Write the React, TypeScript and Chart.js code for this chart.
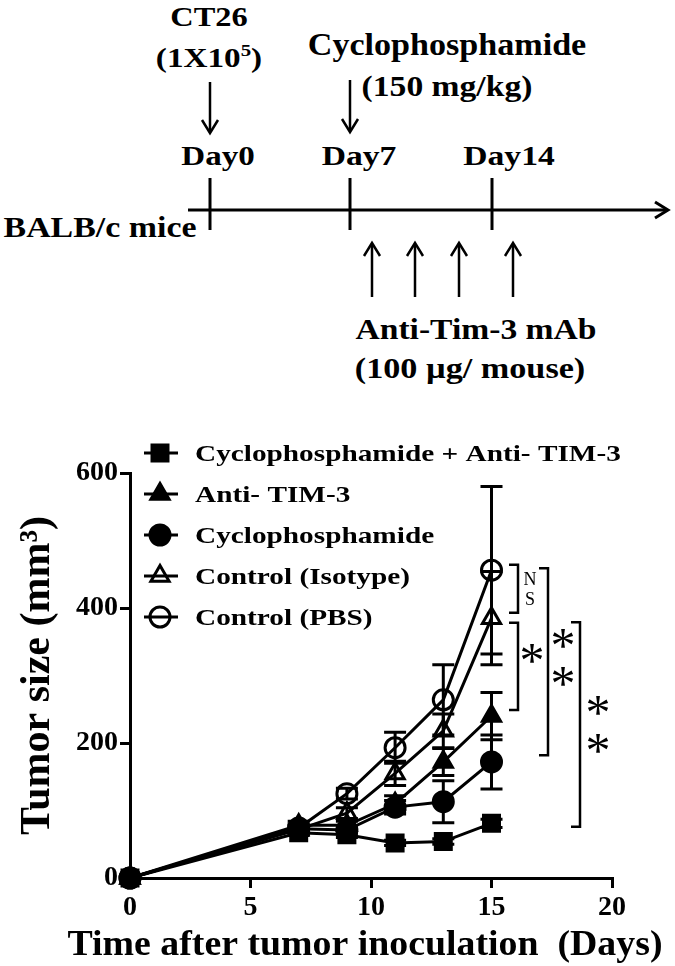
import React, { useEffect, useRef } from 'react';
import { Chart, registerables } from 'chart.js';

Chart.register(...registerables);

// ---------------- data ----------------
const days = [0, 7, 9, 11, 13, 15];
const comboValues = [0, 67, 64, 52, 54, 81];
const comboErrors = [0, 4, 4, 4, 4, 6];
const antiTim3Values = [0, 78, 78, 110, 172, 240];
const antiTim3Errors = [0, 6, 6, 12, 20, 35];
const cycloValues = [0, 73, 71, 105, 113, 172];
const cycloErrors = [0, 5, 6, 10, 31, 40];
const isotypeValues = [0, 72, 96, 155, 218, 385];
const isotypeErrors = [0, 6, 8, 18, 25, 69];
const pbsValues = [0, 74, 125, 193, 264, 456];
const pbsErrors = [0, 6, 8, 23, 52, 124];

const seriesLabels = [
  'Cyclophosphamide + Anti- TIM-3',
  'Anti- TIM-3',
  'Cyclophosphamide',
  'Control (Isotype)',
  'Control (PBS)',
];
const seriesValues = [comboValues, antiTim3Values, cycloValues, isotypeValues, pbsValues];
const seriesErrors = [comboErrors, antiTim3Errors, cycloErrors, isotypeErrors, pbsErrors];

const xTicks = [0, 5, 10, 15, 20];
const yTicks = [0, 200, 400, 600];
const xTitle = 'Time after tumor inoculation  (Days)';
const yTitle = 'Tumor size (mm³)';

const bracketTops = [464, 378, 459, 379];
const bracketBottoms = [393, 249, 182, 76];
const bracketLabels = ['NS', '*', '**', '**'];

// ---------------- styles ----------------
const FONT = "'Liberation Serif', 'Times New Roman', serif";
const markerStyles = [
  { pointStyle: 'rect', radius: 11.3, filled: true },
  { pointStyle: 'triangle', radius: 10.5, filled: true },
  { pointStyle: 'circle', radius: 10, filled: true },
  { pointStyle: 'triangle', radius: 10.5, filled: false },
  { pointStyle: 'circle', radius: 10, filled: false },
];
const CANVAS_TOP = 420;
const bracketPx = [518, 518, 548, 580];
const labelPx = [530, 532, 563, 598];
const labelDy = [0, -13, -5, 0];

function drawMarker(ctx: CanvasRenderingContext2D, style: string, r: number, x: number, y: number) {
  ctx.beginPath();
  if (style === 'rect') {
    const s = Math.SQRT1_2 * r;
    ctx.rect(x - s, y - s, 2 * s, 2 * s);
  } else if (style === 'triangle') {
    let rad = 0;
    ctx.moveTo(x + Math.sin(rad) * r, y - Math.cos(rad) * r);
    rad += (2 * Math.PI) / 3;
    ctx.lineTo(x + Math.sin(rad) * r, y - Math.cos(rad) * r);
    rad += (2 * Math.PI) / 3;
    ctx.lineTo(x + Math.sin(rad) * r, y - Math.cos(rad) * r);
    ctx.closePath();
  } else {
    ctx.arc(x, y, r, 0, Math.PI * 2);
  }
}

const errorBarPlugin = {
  id: 'errorBars',
  beforeDatasetsDraw(chart: any) {
    const { ctx, scales } = chart;
    const xs = scales.x, ys = scales.y;
    ctx.save();
    ctx.strokeStyle = '#000';
    ctx.lineWidth = 3;
    seriesValues.forEach((vals, i) => {
      const errs = seriesErrors[i];
      vals.forEach((v, j) => {
        const e = errs[j];
        if (!e) return;
        const px = xs.getPixelForValue(days[j]);
        const pt = ys.getPixelForValue(v + e);
        const pb = ys.getPixelForValue(v - e);
        ctx.beginPath();
        ctx.moveTo(px, pt); ctx.lineTo(px, pb);
        ctx.moveTo(px - 11, pt); ctx.lineTo(px + 11, pt);
        ctx.moveTo(px - 11, pb); ctx.lineTo(px + 11, pb);
        ctx.stroke();
      });
    });
    ctx.restore();
  },
};

const legendPlugin = {
  id: 'customLegend',
  afterDraw(chart: any) {
    const { ctx } = chart;
    ctx.save();
    seriesLabels.forEach((label, i) => {
      const cy = 453 - CANVAS_TOP + i * 41;
      ctx.strokeStyle = '#000';
      ctx.lineWidth = 3;
      ctx.beginPath();
      ctx.moveTo(144, cy); ctx.lineTo(178, cy);
      ctx.stroke();
      const m = markerStyles[i];
      drawMarker(ctx, m.pointStyle, m.radius, 160, cy);
      ctx.fillStyle = m.filled ? '#000' : 'rgba(0,0,0,0)';
      ctx.fill();
      ctx.stroke();
      ctx.save();
      ctx.translate(195, cy + 8);
      ctx.scale(1.22, 1);
      ctx.fillStyle = '#000';
      ctx.font = `bold 24px ${FONT}`;
      ctx.textAlign = 'left';
      ctx.textBaseline = 'alphabetic';
      ctx.fillText(label, 0, 0);
      ctx.restore();
    });
    ctx.restore();
  },
};

const xTitlePlugin = {
  id: 'xTitle',
  afterDraw(chart: any) {
    const { ctx } = chart;
    ctx.save();
    ctx.font = `bold 35px ${FONT}`;
    const w = ctx.measureText(xTitle).width;
    const target = 595;
    ctx.translate(365, 955 - CANVAS_TOP);
    ctx.scale(target / w, 1);
    ctx.fillStyle = '#000';
    ctx.textAlign = 'center';
    ctx.textBaseline = 'alphabetic';
    ctx.fillText(xTitle, 0, 0);
    ctx.restore();
  },
};

const bracketPlugin = {
  id: 'brackets',
  afterDraw(chart: any) {
    const { ctx, scales } = chart;
    const ys = scales.y;
    ctx.save();
    ctx.strokeStyle = '#000';
    ctx.fillStyle = '#000';
    ctx.lineWidth = 2.5;
    bracketLabels.forEach((label, i) => {
      const bx = bracketPx[i];
      const t = ys.getPixelForValue(bracketTops[i]);
      const b = ys.getPixelForValue(bracketBottoms[i]);
      ctx.beginPath();
      ctx.moveTo(bx - 9, t); ctx.lineTo(bx, t); ctx.lineTo(bx, b); ctx.lineTo(bx - 9, b);
      ctx.stroke();
      const mid = (t + b) / 2 + labelDy[i];
      const chars = label.split('');
      const isStar = chars[0] === '*';
      const step = isStar ? 38 : 20;
      ctx.textAlign = 'center';
      ctx.textBaseline = 'alphabetic';
      chars.forEach((c, k) => {
        const cy = mid + (k - (chars.length - 1) / 2) * step;
        if (isStar) {
          ctx.font = `50px ${FONT}`;
          ctx.fillText(c, labelPx[i], cy + 24);
        } else {
          ctx.font = `18px ${FONT}`;
          ctx.fillText(c, labelPx[i], cy + 6);
        }
      });
    });
    ctx.restore();
  },
};

function STxt(props: { x: number; y: number; size: number; sx: number; children: any }) {
  const { x, y, size, sx, children } = props;
  return (
    <text
      transform={`translate(${x} ${y}) scale(${sx} 1)`}
      textAnchor="middle"
      fontSize={size}
      fontWeight="bold"
      fontFamily={FONT}
      fill="#000"
    >
      {children}
    </text>
  );
}

function Timeline() {
  const upArrows = [372, 415, 459, 513];
  const ticks = [210, 350, 492];
  return (
    <svg width={675} height={420} style={{ position: 'absolute', left: 0, top: 0 }}>
      <STxt x={209} y={26} size={27} sx={1.2}>CT26</STxt>
      <STxt x={209} y={67} size={27} sx={1.23}>
        (1X10<tspan dy={-11} fontSize={17}>5</tspan><tspan dy={11}>)</tspan>
      </STxt>
      <STxt x={447} y={55} size={31} sx={1.1}>Cyclophosphamide</STxt>
      <STxt x={447} y={96} size={30} sx={1.12}>(150 mg/kg)</STxt>
      <STxt x={218} y={165} size={28} sx={1.18}>Day0</STxt>
      <STxt x={359} y={165} size={28} sx={1.2}>Day7</STxt>
      <STxt x={509} y={165} size={28} sx={1.2}>Day14</STxt>
      <STxt x={100} y={237} size={30} sx={1.13}>BALB/c mice</STxt>
      <STxt x={476} y={339} size={30} sx={1.12}>Anti-Tim-3 mAb</STxt>
      <STxt x={470} y={378} size={30} sx={1.14}>(100 µg/ mouse)</STxt>
      <g stroke="#000" fill="none" strokeWidth={2.5}>
        <line x1={210} y1={82} x2={210} y2={132} />
        <polyline points="202,120 210,133 218,120" />
        <line x1={350} y1={80} x2={350} y2={131} />
        <polyline points="342,119 350,132 358,119" />
        <line x1={188} y1={210} x2={667} y2={210} strokeWidth={3} />
        <polyline points="655,202 668,210 655,218" strokeWidth={3} />
        {ticks.map((t) => (
          <line key={t} x1={t} y1={178} x2={t} y2={230} strokeWidth={3} />
        ))}
        {upArrows.map((a) => (
          <g key={a}>
            <line x1={a} y1={297} x2={a} y2={244} />
            <polyline points={`${a - 8},256 ${a},243 ${a + 8},256`} />
          </g>
        ))}
      </g>
    </svg>
  );
}

export default function App() {
  const canvasRef = useRef<HTMLCanvasElement | null>(null);

  useEffect(() => {
    document.body.style.margin = '0';
    const canvas = canvasRef.current;
    if (!canvas) return;
    Chart.defaults.font.family = FONT;
    const datasets = seriesValues.map((vals, i) => {
      const m = markerStyles[i];
      return {
        label: seriesLabels[i],
        data: vals.map((v, j) => ({ x: days[j], y: v })),
        showLine: true,
        borderColor: '#000',
        borderWidth: 3,
        backgroundColor: m.filled ? '#000' : 'rgba(0,0,0,0)',
        pointStyle: m.pointStyle,
        pointRadius: m.radius,
        pointBorderWidth: 3,
        pointBorderColor: '#000',
        pointBackgroundColor: m.filled ? '#000' : 'rgba(0,0,0,0)',
        clip: false,
        tension: 0,
      };
    });
    const chart = new Chart(canvas, {
      type: 'scatter',
      data: { datasets } as any,
      options: {
        animation: false,
        responsive: false,
        devicePixelRatio: 1,
        layout: { padding: { top: 53, right: 63, bottom: 0, left: 0 } },
        plugins: { legend: { display: false }, tooltip: { enabled: false } },
        scales: {
          x: {
            type: 'linear',
            min: 0,
            max: 20,
            afterBuildTicks: (s: any) => {
              s.ticks = xTicks.map((v) => ({ value: v }));
            },
            afterFit: (s: any) => {
              s.height = 88;
            },
            border: { display: true, color: '#000', width: 3 },
            grid: { drawOnChartArea: false, drawTicks: true, tickLength: 10, color: '#000', lineWidth: 3 },
            ticks: { color: '#000', font: { size: 28, weight: 'bold' }, padding: 3 },
            title: { display: false },
          },
          y: {
            type: 'linear',
            min: 0,
            max: 600,
            afterBuildTicks: (s: any) => {
              s.ticks = yTicks.map((v) => ({ value: v }));
            },
            afterFit: (s: any) => {
              s.width = 130;
            },
            border: { display: true, color: '#000', width: 3 },
            grid: { drawOnChartArea: false, drawTicks: true, tickLength: 10, color: '#000', lineWidth: 3 },
            ticks: { color: '#000', font: { size: 28, weight: 'bold' }, padding: 2 },
            title: {
              display: true,
              text: yTitle,
              color: '#000',
              font: { size: 42, weight: 'bold' },
              padding: { top: 13, bottom: 0 },
            },
          },
        },
      } as any,
      plugins: [errorBarPlugin, legendPlugin, bracketPlugin, xTitlePlugin],
    });
    return () => chart.destroy();
  }, []);

  return (
    <div style={{ position: 'relative', width: 675, height: 966, background: '#fff', overflow: 'hidden' }}>
      <Timeline />
      <canvas
        ref={canvasRef}
        width={675}
        height={546}
        style={{ position: 'absolute', left: 0, top: CANVAS_TOP, width: 675, height: 546 }}
      />
    </div>
  );
}
